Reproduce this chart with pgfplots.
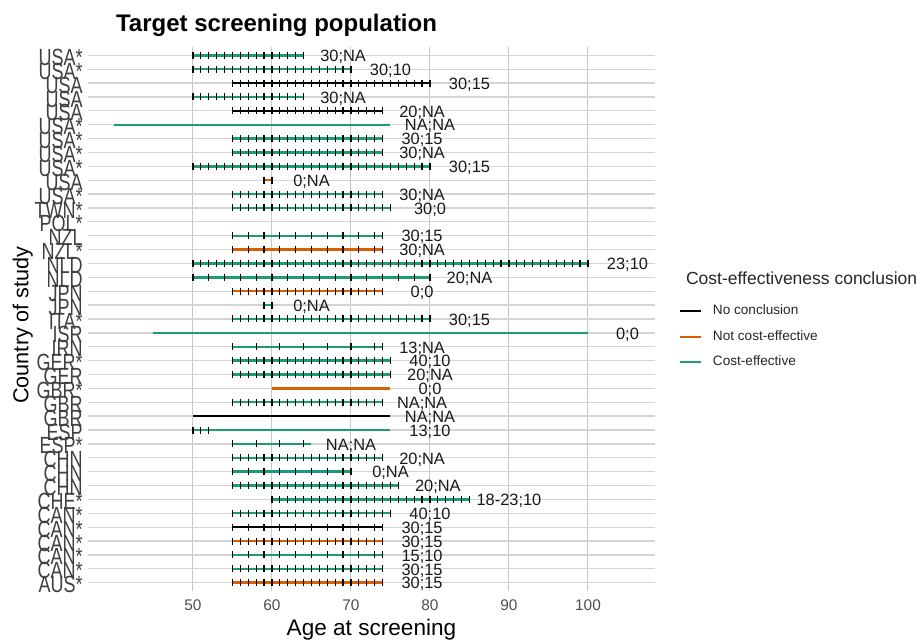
\documentclass[border=0pt]{standalone}
\usepackage{fontspec}
\setmainfont{Liberation Sans}
\usepackage{graphicx}
\usepackage{pgfplots}
\pgfplotsset{compat=1.18}
\definecolor{cgreen}{HTML}{1B9E77}
\definecolor{corange}{HTML}{D95F02}
\definecolor{axgrey}{HTML}{4D4D4D}
\newcommand\sq[1]{\scalebox{0.77}[1]{#1}}
\protected\def\sc{;}
\pgfplotsset{seg/.style={line width=1.2pt, mark=none, forget plot}}
\begin{document}
\begin{tikzpicture}
\useasboundingbox (0,0) rectangle (458.5pt,320.5pt);
\begin{axis}[
  at={(44pt,25pt)}, anchor=south west,
  scale only axis, width=283.5pt, height=272pt,
  xmin=36.71, xmax=108.48, ymin=0.4, ymax=39.6,
  xtick={50,60,70,80,90,100},
  ytick={1,...,39},
  yticklabels={\sq{AUS*},\sq{CAN*},\sq{CAN*},\sq{CAN*},\sq{CAN*},\sq{CAN*},\sq{CHE*},\sq{CHN},\sq{CHN},\sq{CHN},\sq{ESP*},\sq{ESP},\sq{GBR},\sq{GBR},\sq{GBR*},\sq{GER},\sq{GER*},\sq{IRN},\sq{ISR},\sq{ITA*},\sq{JPN},\sq{JPN},\sq{NLD},\sq{NLD},\sq{NZL*},\sq{NZL},\sq{POL*},\sq{TWN*},\sq{USA*},\sq{USA},\sq{USA*},\sq{USA*},\sq{USA*},\sq{USA*},\sq{USA},\sq{USA},\sq{USA},\sq{USA*},\sq{USA*}},
  xmajorgrids, ymajorgrids,
  x grid style={color=black!22, line width=0.5pt},
  y grid style={color=black!17, line width=0.65pt},
  axis line style={draw=none},
  major tick length=0pt,
  tick style={draw=none},
  clip=false,
  /pgf/number format/assume math mode=true,
  xticklabel style={font=\fontsize{7.7}{8}\selectfont, text=axgrey, inner sep=0pt, anchor=north, yshift=-4pt},
  yticklabel style={font=\fontsize{11.7}{12}\selectfont, text=black!75, inner sep=0pt, anchor=east, xshift=-2.5pt, yshift=-1pt},
  legend cell align=left,
  legend style={at={(axis description cs:1.0423,0.5257)}, anchor=north west, draw=none, fill=none,
    inner sep=0pt, outer sep=0pt,
    font=\fontsize{6.8}{7}\selectfont, text=black!85, row sep=6.2pt,
    nodes={inner sep=0pt},
    /tikz/every odd column/.append style={column sep=5.5pt}},
  legend image code/.code={\draw[#1, line width=1pt] (0pt,0pt) -- (10.5pt,0pt);},
]
\addlegendimage{black}
\addlegendentry{No conclusion}
\addlegendimage{corange}
\addlegendentry{Not cost-effective}
\addlegendimage{cgreen}
\addlegendentry{Cost-effective}

% segments
\addplot[seg, cgreen] coordinates {(50,39)(64,39)};
\addplot[seg, cgreen] coordinates {(50,38)(70,38)};
\addplot[seg, black] coordinates {(55,37)(80,37)};
\addplot[seg, cgreen] coordinates {(50,36)(64,36)};
\addplot[seg, black] coordinates {(55,35)(74,35)};
\addplot[seg, cgreen] coordinates {(40,34)(75,34)};
\addplot[seg, cgreen] coordinates {(55,33)(74,33)};
\addplot[seg, cgreen] coordinates {(55,32)(74,32)};
\addplot[seg, cgreen] coordinates {(50,31)(80,31)};
\addplot[seg, corange] coordinates {(59,30)(60,30)};
\addplot[seg, cgreen] coordinates {(55,29)(74,29)};
\addplot[seg, cgreen] coordinates {(55,28)(75,28)};
\addplot[seg, cgreen] coordinates {(55,26)(74,26)};
\addplot[seg, corange] coordinates {(55,25)(74,25)};
\addplot[seg, cgreen] coordinates {(50,24)(100,24)};
\addplot[seg, cgreen] coordinates {(50,23)(80,23)};
\addplot[seg, corange] coordinates {(55,22)(74,22)};
\addplot[seg, cgreen] coordinates {(59,21)(60,21)};
\addplot[seg, cgreen] coordinates {(55,20)(80,20)};
\addplot[seg, cgreen] coordinates {(45,19)(100,19)};
\addplot[seg, cgreen] coordinates {(55,18)(74,18)};
\addplot[seg, cgreen] coordinates {(55,17)(75,17)};
\addplot[seg, cgreen] coordinates {(55,16)(75,16)};
\addplot[seg, corange] coordinates {(60,15)(75,15)};
\addplot[seg, cgreen] coordinates {(55,14)(74,14)};
\addplot[seg, black] coordinates {(50,13)(75,13)};
\addplot[seg, cgreen] coordinates {(50,12)(75,12)};
\addplot[seg, cgreen] coordinates {(55,11)(65,11)};
\addplot[seg, cgreen] coordinates {(55,10)(74,10)};
\addplot[seg, cgreen] coordinates {(55,9)(70,9)};
\addplot[seg, cgreen] coordinates {(55,8)(76,8)};
\addplot[seg, cgreen] coordinates {(60,7)(85,7)};
\addplot[seg, cgreen] coordinates {(55,6)(75,6)};
\addplot[seg, black] coordinates {(55,5)(74,5)};
\addplot[seg, corange] coordinates {(55,4)(74,4)};
\addplot[seg, cgreen] coordinates {(55,3)(74,3)};
\addplot[seg, cgreen] coordinates {(55,2)(74,2)};
\addplot[seg, corange] coordinates {(55,1)(74,1)};

% screening ages
\addplot[only marks, mark=|, mark size=1.75pt, black, mark options={line width=0.6pt}, forget plot] coordinates {
(50,39)(51,39)(52,39)(53,39)(54,39)(55,39)(56,39)(57,39)(58,39)(59,39)(60,39)(61,39)(62,39)(63,39)(64,39)
(50,38)(51,38)(52,38)(53,38)(54,38)(55,38)(56,38)(57,38)(58,38)(59,38)(60,38)(61,38)(62,38)(63,38)(64,38)(65,38)(66,38)(67,38)(68,38)(69,38)(70,38)
(55,37)(56,37)(57,37)(58,37)(59,37)(60,37)(61,37)(62,37)(63,37)(64,37)(65,37)(66,37)(67,37)(68,37)(69,37)(70,37)(71,37)(72,37)(73,37)(74,37)(75,37)(76,37)(77,37)(78,37)(79,37)(80,37)
(50,36)(51,36)(52,36)(53,36)(54,36)(55,36)(56,36)(57,36)(58,36)(59,36)(60,36)(61,36)(62,36)(63,36)(64,36)
(55,35)(56,35)(57,35)(58,35)(59,35)(60,35)(61,35)(62,35)(63,35)(64,35)(65,35)(66,35)(67,35)(68,35)(69,35)(70,35)(71,35)(72,35)(73,35)(74,35)
(55,33)(56,33)(57,33)(58,33)(59,33)(60,33)(61,33)(62,33)(63,33)(64,33)(65,33)(66,33)(67,33)(68,33)(69,33)(70,33)(71,33)(72,33)(73,33)(74,33)
(55,32)(56,32)(57,32)(58,32)(59,32)(60,32)(61,32)(62,32)(63,32)(64,32)(65,32)(66,32)(67,32)(68,32)(69,32)(70,32)(71,32)(72,32)(73,32)(74,32)
(50,31)(51,31)(52,31)(53,31)(54,31)(55,31)(56,31)(57,31)(58,31)(59,31)(60,31)(61,31)(62,31)(63,31)(64,31)(65,31)(66,31)(67,31)(68,31)(69,31)(70,31)(71,31)(72,31)(73,31)(74,31)(75,31)(76,31)(77,31)(78,31)(79,31)(80,31)
(59,30)(60,30)
(55,29)(56,29)(57,29)(58,29)(59,29)(60,29)(61,29)(62,29)(63,29)(64,29)(65,29)(66,29)(67,29)(68,29)(69,29)(70,29)(71,29)(72,29)(73,29)(74,29)
(55,28)(56,28)(57,28)(58,28)(59,28)(60,28)(61,28)(62,28)(63,28)(64,28)(65,28)(66,28)(67,28)(68,28)(69,28)(70,28)(71,28)(72,28)(73,28)(74,28)(75,28)
(55,26)(57,26)(59,26)(61,26)(63,26)(65,26)(67,26)(69,26)(71,26)(73,26)(74,26)
(55,25)(57,25)(59,25)(61,25)(63,25)(65,25)(67,25)(69,25)(71,25)(73,25)(74,25)
(50,24)(51,24)(52,24)(53,24)(54,24)(55,24)(56,24)(57,24)(58,24)(59,24)(60,24)(61,24)(62,24)(63,24)(64,24)(65,24)(66,24)(67,24)(68,24)(69,24)(70,24)(71,24)(72,24)(73,24)(74,24)(75,24)(76,24)(77,24)(78,24)(79,24)(80,24)(81,24)(82,24)(83,24)(84,24)(85,24)(86,24)(87,24)(88,24)(89,24)(90,24)(91,24)(92,24)(93,24)(94,24)(95,24)(96,24)(97,24)(98,24)(99,24)(100,24)
(50,23)(52,23)(54,23)(56,23)(58,23)(60,23)(62,23)(64,23)(66,23)(68,23)(70,23)(72,23)(74,23)(76,23)(78,23)(80,23)
(55,22)(56,22)(57,22)(58,22)(59,22)(60,22)(61,22)(62,22)(63,22)(64,22)(65,22)(66,22)(67,22)(68,22)(69,22)(70,22)(71,22)(72,22)(73,22)(74,22)
(59,21)(60,21)
(55,20)(56,20)(57,20)(58,20)(59,20)(60,20)(61,20)(62,20)(63,20)(64,20)(65,20)(66,20)(67,20)(68,20)(69,20)(70,20)(71,20)(72,20)(73,20)(74,20)(75,20)(76,20)(77,20)(78,20)(79,20)(80,20)
(55,18)(58,18)(61,18)(64,18)(67,18)(70,18)(73,18)(74,18)
(55,17)(56,17)(57,17)(58,17)(59,17)(60,17)(61,17)(62,17)(63,17)(64,17)(65,17)(66,17)(67,17)(68,17)(69,17)(70,17)(71,17)(72,17)(73,17)(74,17)(75,17)
(55,16)(56,16)(57,16)(58,16)(59,16)(60,16)(61,16)(62,16)(63,16)(64,16)(65,16)(66,16)(67,16)(68,16)(69,16)(70,16)(71,16)(72,16)(73,16)(74,16)(75,16)
(55,14)(56,14)(57,14)(58,14)(59,14)(60,14)(61,14)(62,14)(63,14)(64,14)(65,14)(66,14)(67,14)(68,14)(69,14)(70,14)(71,14)(72,14)(73,14)(74,14)
(50,12)(51,12)(52,12)
(55,11)(58,11)(61,11)(64,11)
(55,10)(56,10)(57,10)(58,10)(59,10)(60,10)(61,10)(62,10)(63,10)(64,10)(65,10)(66,10)(67,10)(68,10)(69,10)(70,10)(71,10)(72,10)(73,10)(74,10)
(55,9)(57,9)(59,9)(61,9)(63,9)(65,9)(67,9)(69,9)(70,9)
(55,8)(56,8)(57,8)(58,8)(59,8)(60,8)(61,8)(62,8)(63,8)(64,8)(65,8)(66,8)(67,8)(68,8)(69,8)(70,8)(71,8)(72,8)(73,8)(74,8)(75,8)(76,8)
(60,7)(61,7)(62,7)(63,7)(64,7)(65,7)(66,7)(67,7)(68,7)(69,7)(70,7)(71,7)(72,7)(73,7)(74,7)(75,7)(76,7)(77,7)(78,7)(79,7)(80,7)(81,7)(82,7)(83,7)(84,7)(85,7)
(55,6)(56,6)(57,6)(58,6)(59,6)(60,6)(61,6)(62,6)(63,6)(64,6)(65,6)(66,6)(67,6)(68,6)(69,6)(70,6)(71,6)(72,6)(73,6)(74,6)(75,6)
(55,5)(57,5)(59,5)(61,5)(63,5)(65,5)(67,5)(69,5)(71,5)(73,5)(74,5)
(55,4)(56,4)(57,4)(58,4)(59,4)(60,4)(61,4)(62,4)(63,4)(64,4)(65,4)(66,4)(67,4)(68,4)(69,4)(70,4)(71,4)(72,4)(73,4)(74,4)
(55,3)(57,3)(59,3)(61,3)(63,3)(65,3)(67,3)(69,3)(71,3)(73,3)(74,3)
(55,2)(56,2)(57,2)(58,2)(59,2)(60,2)(61,2)(62,2)(63,2)(64,2)(65,2)(66,2)(67,2)(68,2)(69,2)(70,2)(71,2)(72,2)(73,2)(74,2)
(55,1)(56,1)(57,1)(58,1)(59,1)(60,1)(61,1)(62,1)(63,1)(64,1)(65,1)(66,1)(67,1)(68,1)(69,1)(70,1)(71,1)(72,1)(73,1)(74,1)
};

% labels
\addplot[only marks, mark=none, forget plot, nodes near coords, point meta=explicit symbolic,
  nodes near coords style={anchor=center, font=\fontsize{8.2}{9}\selectfont, text=black!90, inner sep=0pt, yshift=-0.8pt}]
  table[meta=lab, row sep=\\] {
x y lab\\
69 39 30\sc{}NA\\
75 38 30\sc{}10\\
85 37 30\sc{}15\\
69 36 30\sc{}NA\\
79 35 20\sc{}NA\\
80 34 NA\sc{}NA\\
79 33 30\sc{}15\\
79 32 30\sc{}NA\\
85 31 30\sc{}15\\
65 30 0\sc{}NA\\
79 29 30\sc{}NA\\
80 28 30\sc{}0\\
79 26 30\sc{}15\\
79 25 30\sc{}NA\\
105 24 23\sc{}10\\
85 23 20\sc{}NA\\
79 22 0\sc{}0\\
65 21 0\sc{}NA\\
85 20 30\sc{}15\\
105 19 0\sc{}0\\
79 18 13\sc{}NA\\
80 17 40\sc{}10\\
80 16 20\sc{}NA\\
80 15 0\sc{}0\\
79 14 NA\sc{}NA\\
80 13 NA\sc{}NA\\
80 12 13\sc{}10\\
70 11 NA\sc{}NA\\
79 10 20\sc{}NA\\
75 9 0\sc{}NA\\
81 8 20\sc{}NA\\
90 7 18-23\sc{}10\\
80 6 40\sc{}10\\
79 5 30\sc{}15\\
79 4 30\sc{}15\\
79 3 15\sc{}10\\
79 2 30\sc{}15\\
79 1 30\sc{}15\\
};
\end{axis}
\node[anchor=base west, font=\bfseries\fontsize{12}{13}\selectfont] at (54.5pt,304.6pt) {Target screening population};
\node[anchor=base, rotate=90, font=\fontsize{10.8}{11}\selectfont] at (14.2pt,158pt) {Country of study};
\node[anchor=base, font=\fontsize{11.3}{12}\selectfont] at (185.75pt,2.6pt) {Age at screening};
\node[anchor=base west, font=\fontsize{8.75}{10}\selectfont, text=black!85] at (339.5pt,178pt) {Cost-effectiveness conclusion};
\end{tikzpicture}
\end{document}
